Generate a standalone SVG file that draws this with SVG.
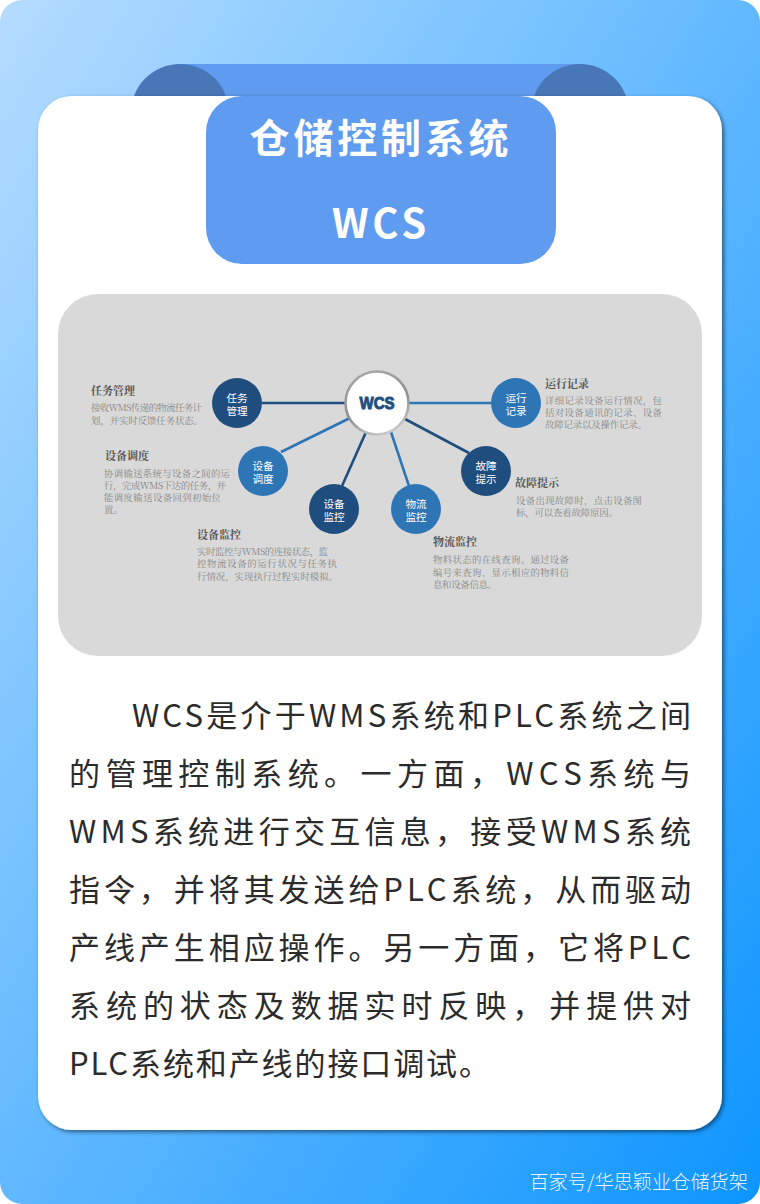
<svg xmlns="http://www.w3.org/2000/svg" width="760" height="1204" viewBox="0 0 760 1204">
<defs>
<linearGradient id="bg" x1="0" y1="0" x2="1" y2="1"><stop offset="0" stop-color="#b5dcff"/><stop offset="1" stop-color="#0d95ff"/></linearGradient>
<linearGradient id="ring" x1="0.2" y1="0" x2="0.6" y2="1"><stop offset="0" stop-color="#a8a8a8"/><stop offset="0.6" stop-color="#8f8f8f"/><stop offset="1" stop-color="#c8c8c8"/></linearGradient>
<filter id="sh" x="-5%" y="-5%" width="110%" height="110%"><feDropShadow dx="2" dy="2" stdDeviation="2" flood-color="#000" flood-opacity="0.5"/></filter>
</defs>
<style>
.body{font-family:"Noto Sans CJK SC",sans-serif;font-size:31px;fill:#2b2b2b}
.title{font-family:"Noto Sans CJK SC",sans-serif;font-size:40px;font-weight:700;fill:#fff;text-anchor:middle;letter-spacing:3.8px}
.nl{font-family:"Noto Sans CJK SC",sans-serif;font-size:10.6px;fill:#fff;text-anchor:middle}
.h{font-family:"Noto Serif CJK SC","Noto Sans CJK SC",serif;font-size:11px;font-weight:700;fill:#555}
.d{font-family:"Noto Serif CJK SC","Noto Sans CJK SC",serif;font-size:9.4px;fill:#858585}
.dark{fill:#1f4e7e}.mid{fill:#2e75b6}
.c{fill:none;stroke-width:2.6}
</style>
<rect width="760" height="1204" rx="22" fill="url(#bg)"/>
<g id="ribbon">
<rect x="180" y="64" width="400" height="60" fill="#5f9bee"/>
<circle cx="180" cy="113" r="49" fill="#4877b8"/>
<circle cx="580" cy="113" r="49" fill="#4877b8"/>
</g>
<rect id="card" x="38" y="96" width="684" height="1034" rx="34" fill="#fff" filter="url(#sh)"/>
<g id="title">
<rect x="206" y="96" width="350" height="168" rx="36" fill="#5f9bee"/>
<text class="title" x="381" y="153">仓储控制系统</text>
<text class="title" x="381" y="238">WCS</text>
</g>
<rect id="panel" x="58" y="294" width="644" height="362" rx="40" fill="#d9d9d9"/>
<g id="connectors">
<path class="c" stroke="#1f4e7e" d="M262 403H345"/>
<path class="c" stroke="#2e75b6" d="M281 452L350 418"/>
<path class="c" stroke="#1f4e7e" d="M342 486L366 432"/>
<path class="c" stroke="#2e75b6" d="M409 486L391 432"/>
<path class="c" stroke="#1f4e7e" d="M469 453L405 419"/>
<path class="c" stroke="#2e75b6" d="M491 403H409"/>
</g>
<g id="hub"><circle cx="377" cy="403" r="31.5" fill="#fff" stroke="url(#ring)" stroke-width="2.6"/><text x="377" y="409" font-family="Liberation Sans,sans-serif" font-size="17" font-weight="700" fill="#1f4e7e" stroke="#1f4e7e" stroke-width="1" text-anchor="middle" textLength="35" lengthAdjust="spacingAndGlyphs">WCS</text></g>
<g id="n1"><circle class="dark" cx="237" cy="403" r="25"/><text class="nl"><tspan x="237" y="401.5">任务</tspan><tspan x="237" y="415">管理</tspan></text></g>
<g id="n2"><circle class="mid" cx="263" cy="471" r="25"/><text class="nl"><tspan x="263" y="469.5">设备</tspan><tspan x="263" y="483">调度</tspan></text></g>
<g id="n3"><circle class="dark" cx="334" cy="509" r="25"/><text class="nl"><tspan x="334" y="507.5">设备</tspan><tspan x="334" y="521">监控</tspan></text></g>
<g id="n4"><circle class="mid" cx="416" cy="509" r="25"/><text class="nl"><tspan x="416" y="507.5">物流</tspan><tspan x="416" y="521">监控</tspan></text></g>
<g id="n5"><circle class="dark" cx="486" cy="471" r="25"/><text class="nl"><tspan x="486" y="469.5">故障</tspan><tspan x="486" y="483">提示</tspan></text></g>
<g id="n6"><circle class="mid" cx="516" cy="403" r="25"/><text class="nl"><tspan x="516" y="401.5">运行</tspan><tspan x="516" y="415">记录</tspan></text></g>
<g id="labels">
<text class="h" x="91" y="395">任务管理</text>
<text class="d"><tspan x="91" y="411" textLength="111">接收WMS传递的物流任务计</tspan><tspan x="91" y="424" textLength="112">划，并实时反馈任务状态。</tspan></text>
<text class="h" x="105" y="460">设备调度</text>
<text class="d"><tspan x="104" y="477" textLength="126">协调输送系统与设备之间的运</tspan><tspan x="104" y="489" textLength="122">行，完成WMS下达的任务，并</tspan><tspan x="104" y="501" textLength="117">能调度输送设备回到初始位</tspan><tspan x="104" y="513">置。</tspan></text>
<text class="h" x="197" y="539">设备监控</text>
<text class="d"><tspan x="197" y="555" textLength="131">实时监控与WMS的连接状态，监</tspan><tspan x="197" y="567" textLength="140">控物流设备的运行状况与任务执</tspan><tspan x="197" y="580" textLength="141">行情况，实现执行过程实时模拟。</tspan></text>
<text class="h" x="433" y="546">物流监控</text>
<text class="d"><tspan x="433" y="563" textLength="136">物料状态的在线查询。通过设备</tspan><tspan x="433" y="576" textLength="136">编号来查询、显示相应的物料信</tspan><tspan x="433" y="588" textLength="64">息和设备信息。</tspan></text>
<text class="h" x="515" y="487">故障提示</text>
<text class="d"><tspan x="516" y="504" textLength="126">设备出现故障时，点击设备图</tspan><tspan x="516" y="516" textLength="102">标，可以查看故障原因。</tspan></text>
<text class="h" x="545" y="388">运行记录</text>
<text class="d"><tspan x="545" y="404" textLength="117">详细记录设备运行情况，包</tspan><tspan x="545" y="416" textLength="117">括对设备通讯的记录、设备</tspan><tspan x="545" y="428" textLength="102">故障记录以及操作记录。</tspan></text>
</g>
<g id="body">
<text class="body" x="132" y="727" textLength="559" lengthAdjust="spacing">WCS是介于WMS系统和PLC系统之间</text>
<text class="body" x="69" y="785" textLength="622" lengthAdjust="spacing">的管理控制系统。一方面，WCS系统与</text>
<text class="body" x="69" y="843" textLength="622" lengthAdjust="spacing">WMS系统进行交互信息，接受WMS系统</text>
<text class="body" x="69" y="901" textLength="622" lengthAdjust="spacing">指令，并将其发送给PLC系统，从而驱动</text>
<text class="body" x="69" y="959" textLength="622" lengthAdjust="spacing">产线产生相应操作。另一方面，它将PLC</text>
<text class="body" x="69" y="1017" textLength="622" lengthAdjust="spacing">系统的状态及数据实时反映，并提供对</text>
<text class="body" x="69" y="1075" textLength="421" lengthAdjust="spacing">PLC系统和产线的接口调试。</text>
</g>
<text id="wm" x="748" y="1189" font-family="Noto Sans CJK SC,sans-serif" font-size="19.2" font-weight="300" fill="#fff" fill-opacity="0.95" text-anchor="end">百家号/华思颖业仓储货架</text>
</svg>
